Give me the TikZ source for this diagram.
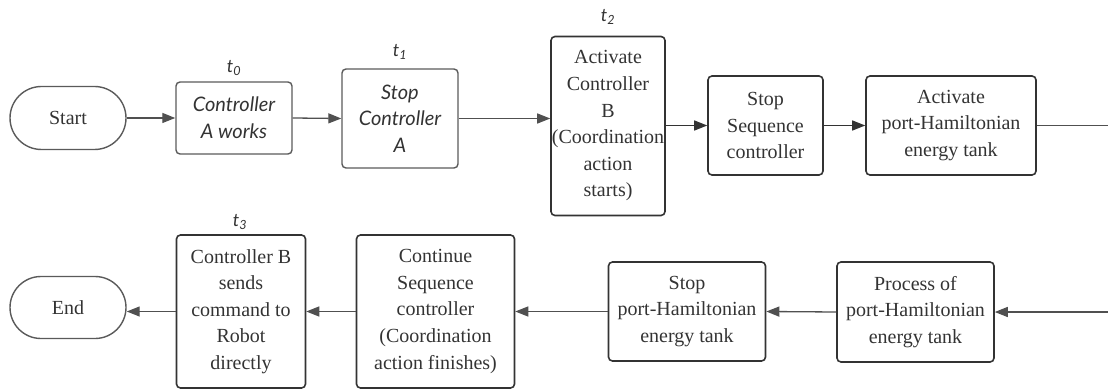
\documentclass[tikz,border=0pt]{standalone}
\usepackage{fontspec}
\setmainfont{Liberation Serif}
\newfontfamily\itfont{Lato Italic}
\usetikzlibrary{arrows.meta,shapes.misc}
\definecolor{boxline}{HTML}{333333}
\definecolor{lightline}{HTML}{5A5A5A}
\definecolor{arrowc}{HTML}{505050}
\definecolor{txt}{HTML}{333333}
\tikzset{
  stepbox/.style={draw=boxline, line width=1.6pt, rounded corners=4pt, align=center,
    text=txt, font=\fontsize{20}{26.6}\selectfont, inner sep=0pt},
  itbox/.style={draw=lightline, line width=1.4pt, rounded corners=4pt, align=center,
    text=txt, font=\fontsize{20}{26.6}\itfont, inner sep=0pt},
  term/.style={draw=lightline, line width=1.4pt, rounded rectangle, align=center,
    text=txt, font=\fontsize{20}{26.6}\selectfont, inner sep=0pt},
  conn/.style={draw=arrowc, line width=1.3pt,
    -{Triangle[length=13pt,width=10pt,fill=arrowc,color=arrowc]}},
  darkconn/.style={draw=boxline, line width=1.3pt,
    -{Triangle[length=13pt,width=10pt,fill=boxline,color=boxline]}},
  tlabel/.style={text=txt, font=\fontsize{18}{20}\itfont, inner sep=0pt}
}
\begin{document}
\begin{tikzpicture}[x=1pt,y=-1pt]
\useasboundingbox (0,0) rectangle (1108,390);
% top row
\node[term, minimum width=116pt, minimum height=63pt] (start) at (68,118) {Start};
\node[itbox, minimum width=116pt, minimum height=72pt] (a) at (234,118) {Controller\\A works};
\node[itbox, minimum width=116pt, minimum height=99pt] (b) at (400,118.5) {Stop\\Controller\\A};
\node[stepbox, minimum width=114pt, minimum height=179pt] (c) at (608,126) {Activate\\Controller\\B\\(Coordination\\action\\starts)};
\node[stepbox, minimum width=115pt, minimum height=99pt] (d) at (765.5,125.5) {Stop\\Sequence\\controller};
\node[stepbox, minimum width=170pt, minimum height=99pt] (e) at (951,125.5) {Activate\\port-Hamiltonian\\energy tank};
\coordinate (eout) at (1108,125.5);
% labels
\node[tlabel] (l0) at (234,68) {t\textsubscript{0}};
\node[tlabel] (l1) at (400,52) {t\textsubscript{1}};
\node[tlabel] (l2) at (608,17) {t\textsubscript{2}};
\node[tlabel] (l3) at (240,222) {t\textsubscript{3}};
% bottom row
\coordinate (fin) at (1108,312);
\node[stepbox, minimum width=157pt, minimum height=100pt] (f) at (915.5,312) {Process of\\port-Hamiltonian\\energy tank};
\node[stepbox, minimum width=157pt, minimum height=99pt] (g) at (687,311.5) {Stop\\port-Hamiltonian\\energy tank};
\node[stepbox, minimum width=158pt, minimum height=153pt] (h) at (435.5,311.5) {Continue\\Sequence\\controller\\(Coordination\\action finishes)};
\node[stepbox, minimum width=129pt, minimum height=153pt] (i) at (241,311.5) {Controller B\\sends\\command to\\Robot\\directly};
\node[term, minimum width=116pt, minimum height=62pt] (endn) at (68,307.5) {End};
% connectors
\draw[conn] (start.east) -- (a.west);
\draw[conn] (a.east) -- (b.west);
\draw[conn] (b.east) -- (b.east -| c.west);
\draw[darkconn] (c.east |- d.west) -- (d.west);
\draw[darkconn] (d.east) -- (e.west);
\draw[draw=arrowc, line width=1.3pt] (e.east) -- (eout);
\draw[conn] (fin) -- (f.east);
\draw[conn] (f.west) -- (g.east);
\draw[conn] (g.west) -- (g.west -| h.east);
\draw[conn] (h.west |- i.east) -- (i.east);
\draw[conn] (i.west) -- (i.west -| endn.east);
\end{tikzpicture}
\end{document}
